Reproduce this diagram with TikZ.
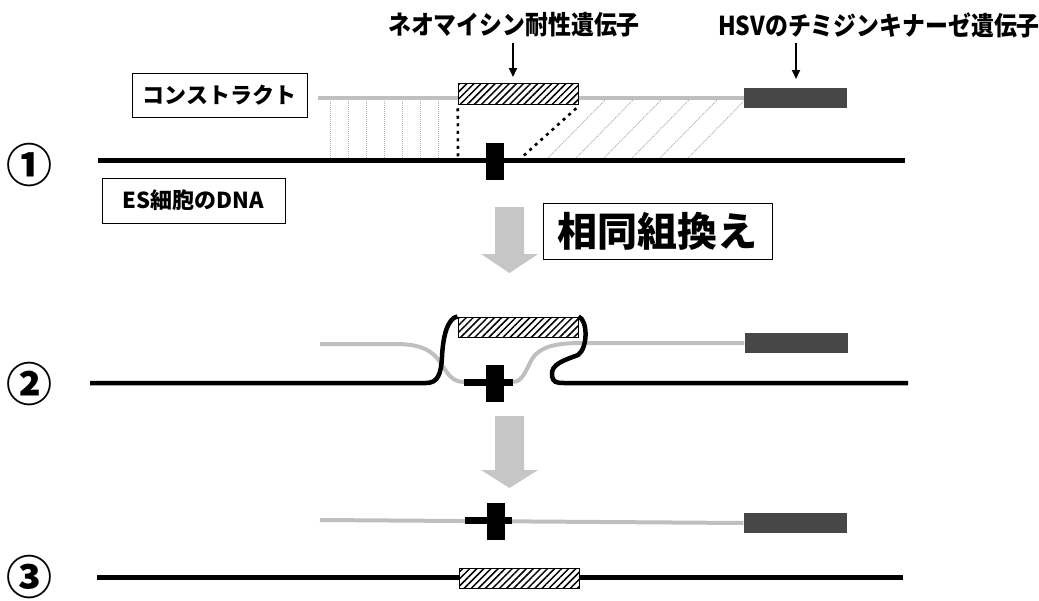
\documentclass[tikz,border=0pt]{standalone}
\usepackage{fontspec}
\setmainfont{Noto Sans CJK JP}
\usetikzlibrary{patterns.meta,arrows.meta}
\tikzset{
  dna/.style={line width=5pt, black},
  gline/.style={line width=4pt, gray!50},
  neobox/.style={draw=black, line width=1pt, preaction={fill=white},
    pattern={Lines[angle=45,distance=5pt,line width=1.5pt]},
    minimum width=120pt, minimum height=20pt, inner sep=0pt},
  hsvbox/.style={fill=black!72, minimum width=103pt, minimum height=20pt, inner sep=0pt},
  exon/.style={fill=black, minimum width=18pt, minimum height=37pt, inner sep=0pt},
  labelbox/.style={draw=black, line width=1pt, fill=white, inner sep=0pt,
    font=\bfseries\fontsize{22}{24}\selectfont},
  titletext/.style={font=\bfseries\fontsize{26}{28}\selectfont, inner sep=0pt, xscale=0.88},
  stepnum/.style={font=\bfseries\fontsize{46}{48}\selectfont, inner sep=0pt},
  pointer/.style={line width=2pt, -{Triangle[length=9pt,width=8pt]}},
  garrow/.style={fill=gray!45},
  vdots/.style={gray!60, line width=1pt, densely dotted},
  bdots/.style={black, line width=2.6pt, dash pattern=on 3pt off 4.5pt},
}
\begin{document}
\begin{tikzpicture}[x=1pt,y=-1pt]
\useasboundingbox (0,0) rectangle (1039,600);

% titles and pointers
\node[titletext] (neoT) at (514,25) {ネオマイシン耐性遺伝子};
\node[titletext, anchor=west] (hsvT) at (718,25) {HSVのチミジンキナーゼ遺伝子};
\coordinate (neoP) at (513,77);
\coordinate (hsvP) at (796,79);
\draw[pointer] (neoP |- neoT.south) ++(0,5) -- (neoP);
\draw[pointer] (hsvP |- hsvT.south) ++(0,5) -- (hsvP);

% step numbers
\node[stepnum] (n1) at (29,165) {①};
\node[stepnum] (n2) at (29,384) {②};
\node[stepnum] (n3) at (29,577) {③};

% ---------- row 1 ----------
\node[labelbox, minimum width=175pt, minimum height=44pt] (cons) at (219.5,95) {コンストラクト};
\node[labelbox, minimum width=183pt, minimum height=45pt] (es) at (193.5,200.5) {ES細胞のDNA};

\coordinate (g1a) at (318,98);
\coordinate (g1b) at (745,98);
\draw[gline] (g1a) -- (g1b);

\foreach \x in {330,348,366,384,402,420,438}
  \draw[vdots] (\x,101) -- (\x,158);
\foreach \x in {548,576,604,632,660,688}
  \draw[vdots] (\x,158) -- (\x+57,100);

\coordinate (l1a) at (98,160);
\coordinate (l1b) at (905,160);
\draw[dna] (l1a) -- (l1b);

\node[neobox, minimum height=21pt] (neo1) at (518.5,94) {};
\node[hsvbox] (hsv1) at (795,98) {};
\node[exon] (ex1) at (495,161) {};

\coordinate (d1) at (458,158);
\coordinate (d2) at (521,158);
\draw[bdots] (neo1.south west) ++(0,3) -- (d1);
\draw[bdots] (neo1.south east) ++(-3,3) -- (d2);

% big arrow 1
\fill[garrow] (495,207) -- (524,207) -- (524,254) -- (538,254) -- (509.5,273) -- (481,254) -- (495,254) -- cycle;
\node[labelbox, font=\bfseries\fontsize{40}{42}\selectfont, minimum width=229pt, minimum height=56pt] (recomb) at (657.5,231) {相同組換え};

% ---------- row 2 ----------
\node[neobox] (neo2) at (518,327) {};
\node[hsvbox] (hsv2) at (796,343) {};

\coordinate (g2a) at (320,344);
\coordinate (g2b) at (464,382);
\coordinate (g2c) at (513,382);
\draw[gline] (g2a) -- (395,344) .. controls (420,344) and (432,350) .. (440,362)
   .. controls (447,373) and (452,382) .. (g2b);
\draw[gline] (g2c) .. controls (525,382) and (528,362) .. (535,355)
   .. controls (545,345) and (560,343) .. (584,343) -- (hsv2.west);

\coordinate (l2a) at (90,383);
\coordinate (l2b) at (908,383);
\draw[dna, line width=4.5pt] (l2a) -- (426,383) .. controls (438,383) and (441,374) .. (442,357)
   .. controls (443,335) and (448,318) .. (neo2.north west);
\draw[dna, line width=4.5pt] (neo2.north east) .. controls (588,320) and (588,348) .. (578,355)
   .. controls (565,360) and (550,364) .. (552,376)
   .. controls (553,382) and (556,383) .. (564,383) -- (l2b);

\draw[black, line width=7pt] (g2b) -- (g2c);
\node[exon] (ex2) at (495,383) {};

% big arrow 2
\fill[garrow] (495,416) -- (524,416) -- (524,470) -- (538,470) -- (509.5,488) -- (481,470) -- (495,470) -- cycle;

% ---------- row 3 ----------
\coordinate (g3a) at (320,520);
\node[hsvbox] (hsv3) at (795,523) {};
\draw[gline] (g3a) -- (hsv3.west);
\coordinate (k3a) at (465,520);
\coordinate (k3b) at (512,520);
\draw[black, line width=7pt] (k3a) -- (k3b);
\node[exon] (ex3) at (496,521) {};

\coordinate (l3a) at (97,577);
\coordinate (l3b) at (903,577);
\draw[dna] (l3a) -- (l3b);
\node[neobox] (neo3) at (519,578) {};
\end{tikzpicture}
\end{document}
